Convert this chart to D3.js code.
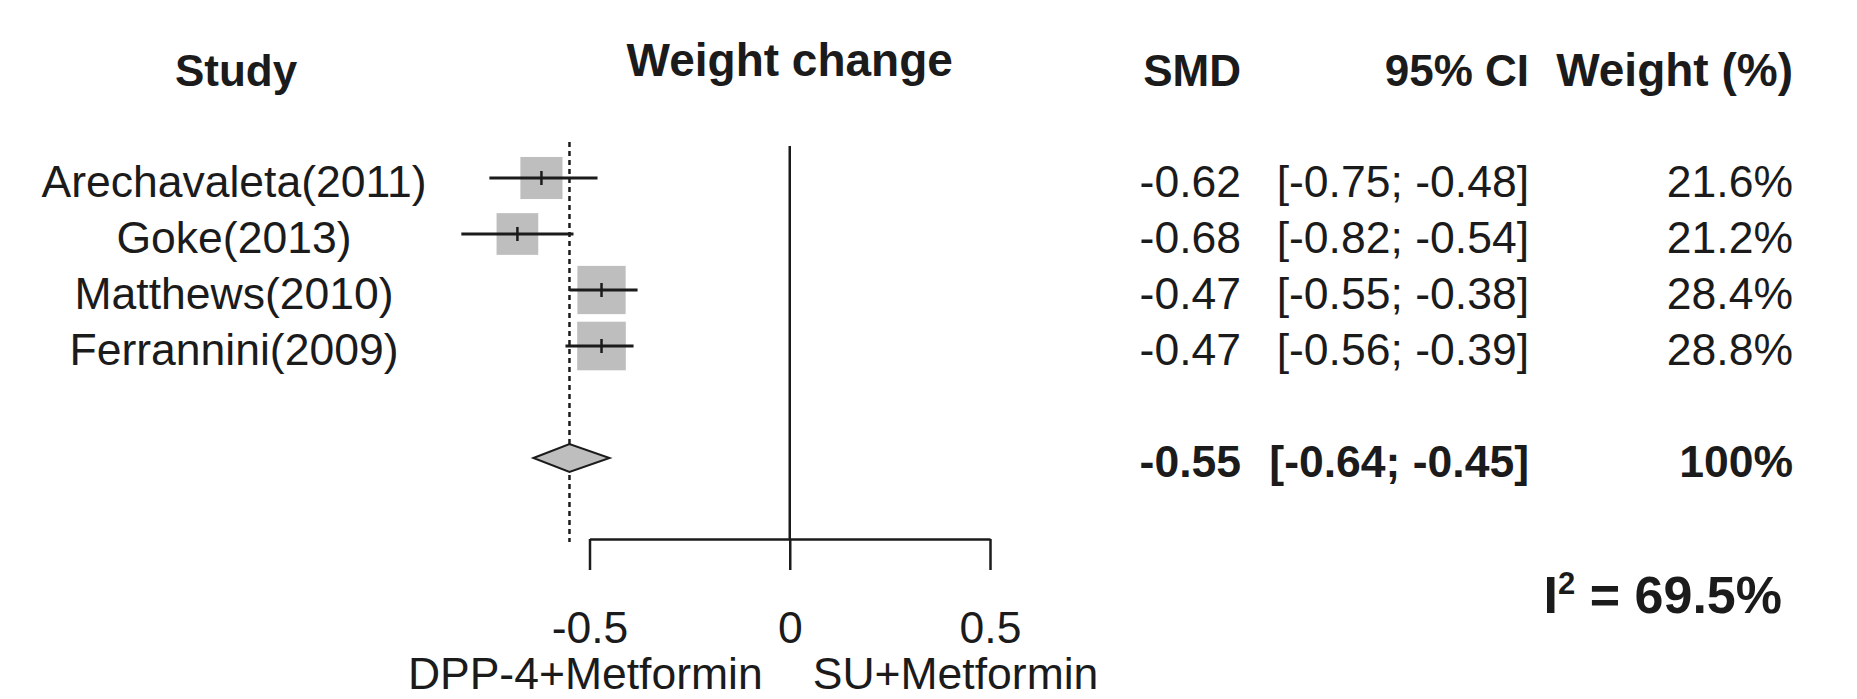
<!DOCTYPE html>
<html>
<head>
<meta charset="utf-8">
<script src="https://cdn.jsdelivr.net/npm/d3@7"></script>
<style>
  html, body { margin: 0; padding: 0; background: #fff; }
  svg text { font-family: "Liberation Sans", Arial, Helvetica, sans-serif; fill: #1b1b1b; }
</style>
</head>
<body>
<svg id="chart" width="1857" height="699"></svg>
<script>
// Study-level results (standardised mean difference in weight change)
const studies = ["Arechavaleta(2011)", "Goke(2013)", "Matthews(2010)", "Ferrannini(2009)"];
const smd = [-0.62, -0.68, -0.47, -0.47];
const ciLower = [-0.75, -0.82, -0.55, -0.56];
const ciUpper = [-0.48, -0.54, -0.38, -0.39];
const weights = [21.6, 21.2, 28.4, 28.8];

// Pooled random-effects estimate
const pooled = [-0.55];
const pooledLower = [-0.64];
const pooledUpper = [-0.45];
const pooledWeight = ["100%"];
const heterogeneity = [69.5];

// Axis
const tickValues = [-0.5, 0, 0.5];
const tickLabels = ["-0.5", "0", "0.5"];
const favourLabels = ["DPP-4+Metformin", "SU+Metformin"];
const headers = ["Study", "Weight change", "SMD", "95% CI", "Weight (%)"];

const svg = d3.select("#chart");
svg.append("rect").attr("width", 1857).attr("height", 699).attr("fill", "#fff");

const x = d3.scaleLinear().domain([-0.5, 0.5]).range([589.5, 990]);
const y = d3.scaleLinear().domain([0, 1]).range([178, 234]); // row index -> centre
const side = d3.scaleSqrt().domain([0, 28.8]).range([0, 48.6]);

const FS = 44.5;
const ink = "#1b1b1b";
const pooledRow = studies.length + 1;
const baselineShift = 19;

// Column headers
const hdr = svg.append("g").attr("font-weight", "bold").attr("font-size", 44);
hdr.append("text").attr("x", 236).attr("y", 86).attr("text-anchor", "middle").text(headers[0]);
hdr.append("text").attr("x", x(0)).attr("y", 76).attr("text-anchor", "middle")
  .attr("font-size", 46).text(headers[1]);
hdr.append("text").attr("x", 1241).attr("y", 86).attr("text-anchor", "end").text(headers[2]);
hdr.append("text").attr("x", 1529).attr("y", 86).attr("text-anchor", "end").text(headers[3]);
hdr.append("text").attr("x", 1793).attr("y", 86).attr("text-anchor", "end")
  .attr("font-size", 46).text(headers[4]);

// Reference line at zero and dashed pooled-estimate line
svg.append("line")
  .attr("x1", x(0)).attr("x2", x(0))
  .attr("y1", 146).attr("y2", 539)
  .attr("stroke", ink).attr("stroke-width", 2.5);

svg.append("line")
  .attr("x1", x(pooled[0])).attr("x2", x(pooled[0]))
  .attr("y1", 142).attr("y2", 542)
  .attr("stroke", ink).attr("stroke-width", 2.5)
  .attr("stroke-dasharray", "5,4");

// Study rows
const rows = svg.append("g").selectAll("g")
  .data(studies.map((s, i) => ({ s, i })))
  .join("g");

rows.append("rect")
  .attr("x", d => x(smd[d.i]) - side(weights[d.i]) / 2)
  .attr("y", d => y(d.i) - side(weights[d.i]) / 2)
  .attr("width", d => side(weights[d.i]))
  .attr("height", d => side(weights[d.i]))
  .attr("fill", "#bebebe");

rows.append("line")
  .attr("x1", d => x(ciLower[d.i])).attr("x2", d => x(ciUpper[d.i]))
  .attr("y1", d => y(d.i)).attr("y2", d => y(d.i))
  .attr("stroke", ink).attr("stroke-width", 3);

rows.append("line")
  .attr("x1", d => x(smd[d.i])).attr("x2", d => x(smd[d.i]))
  .attr("y1", d => y(d.i) - 7).attr("y2", d => y(d.i) + 7)
  .attr("stroke", ink).attr("stroke-width", 2.5);

rows.append("text")
  .attr("x", 234).attr("y", d => y(d.i) + baselineShift)
  .attr("text-anchor", "middle").attr("font-size", FS)
  .text(d => d.s);

rows.append("text")
  .attr("x", 1241).attr("y", d => y(d.i) + baselineShift)
  .attr("text-anchor", "end").attr("font-size", FS)
  .text(d => smd[d.i].toFixed(2));

rows.append("text")
  .attr("x", 1529).attr("y", d => y(d.i) + baselineShift)
  .attr("text-anchor", "end").attr("font-size", FS)
  .text(d => `[${ciLower[d.i].toFixed(2)}; ${ciUpper[d.i].toFixed(2)}]`);

rows.append("text")
  .attr("x", 1793).attr("y", d => y(d.i) + baselineShift)
  .attr("text-anchor", "end").attr("font-size", FS)
  .text(d => `${weights[d.i].toFixed(1)}%`);

// Pooled diamond
const py = y(pooledRow);
svg.append("path")
  .attr("d", d3.line()([
    [x(pooledLower[0]), py], [x(pooled[0]), py - 14],
    [x(pooledUpper[0]), py], [x(pooled[0]), py + 14]
  ]) + "Z")
  .attr("fill", "#bebebe").attr("stroke", ink).attr("stroke-width", 2);

const pg = svg.append("g").attr("font-weight", "bold").attr("font-size", FS).attr("text-anchor", "end");
pg.append("text").attr("x", 1241).attr("y", py + baselineShift).text(pooled[0].toFixed(2));
pg.append("text").attr("x", 1529).attr("y", py + baselineShift)
  .text(`[${pooledLower[0].toFixed(2)}; ${pooledUpper[0].toFixed(2)}]`);
pg.append("text").attr("x", 1793).attr("y", py + baselineShift).text(pooledWeight[0]);

// Heterogeneity statistic
const i2 = svg.append("text").attr("x", 1782).attr("y", 613)
  .attr("text-anchor", "end").attr("font-weight", "bold").attr("font-size", 52);
i2.append("tspan").text("I");
i2.append("tspan").attr("font-size", 31).attr("dy", -19).text("2");
i2.append("tspan").attr("dy", 19).text(` = ${heterogeneity[0]}%`);

// x axis
const axis = svg.append("g")
  .attr("transform", "translate(0,539)")
  .call(d3.axisBottom(x).tickValues(tickValues).tickSize(31).tickSizeOuter(0)
    .tickFormat((d, i) => tickLabels[i]));
axis.select(".domain").attr("stroke", ink).attr("stroke-width", 2.5);
axis.selectAll(".tick line").attr("stroke", ink).attr("stroke-width", 2.5);
axis.selectAll(".tick text")
  .attr("y", 104).attr("dy", 0)
  .attr("font-size", FS).attr("fill", ink)
  .attr("font-family", "'Liberation Sans', Arial, sans-serif");

// Direction labels below the axis
svg.append("text").attr("x", x(0) - 27).attr("y", 689)
  .attr("text-anchor", "end").attr("font-size", FS).text(favourLabels[0]);
svg.append("text").attr("x", x(0) + 23).attr("y", 689)
  .attr("text-anchor", "start").attr("font-size", FS).text(favourLabels[1]);
</script>
</body>
</html>
